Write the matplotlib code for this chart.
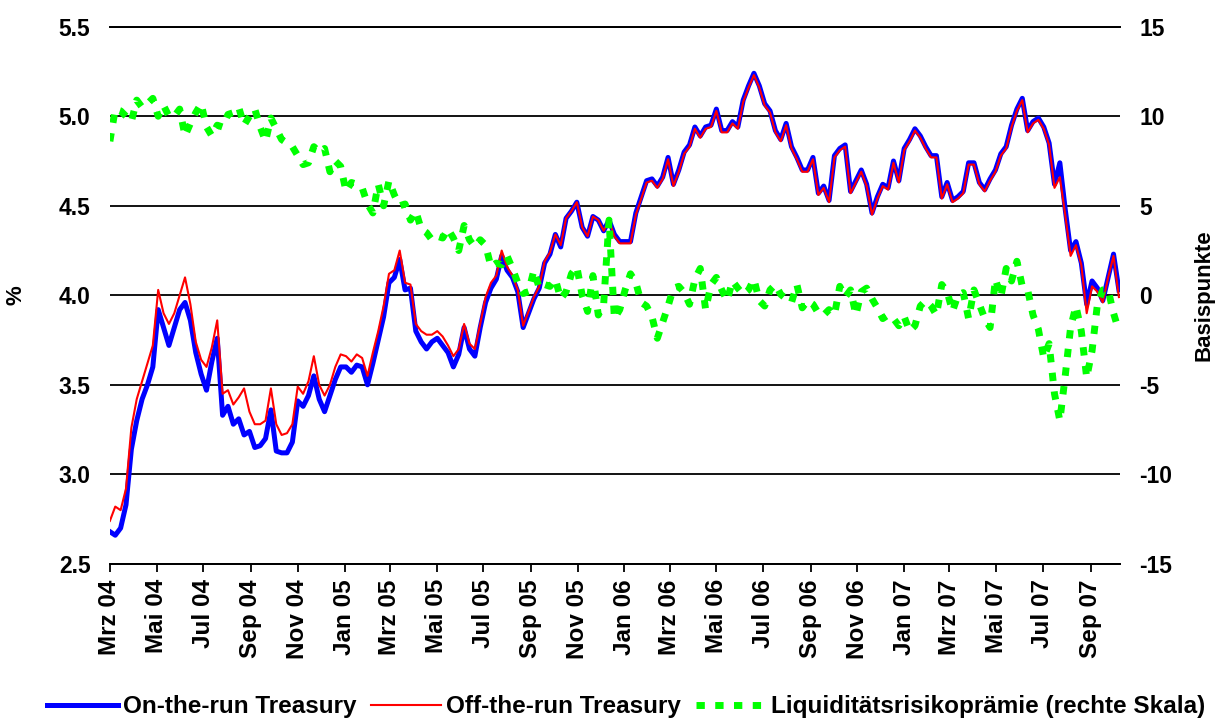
import matplotlib
matplotlib.use("Agg")
import matplotlib.pyplot as plt
import pandas as pd
from matplotlib.lines import Line2D

plt.rcParams["font.family"] = ["Liberation Sans", "DejaVu Sans"]
plt.rcParams["font.weight"] = "bold"
plt.rcParams["axes.unicode_minus"] = False

# weekly readings, first one on 1 March 2004
START = "2004-03-01"

on_the_run = [
    2.68, 2.66, 2.70, 2.83, 3.14, 3.30, 3.42, 3.50, 3.60, 3.92, 3.82, 3.72, 3.82, 3.92, 3.96, 3.86, 3.68, 3.56, 3.47,
    3.63, 3.76, 3.33, 3.38, 3.28, 3.31, 3.22, 3.24, 3.15, 3.16, 3.20, 3.36, 3.13, 3.12, 3.12, 3.18, 3.41, 3.38, 3.44,
    3.55, 3.42, 3.35, 3.44, 3.53, 3.60, 3.60, 3.57, 3.61, 3.60, 3.50, 3.62, 3.75, 3.88, 4.07, 4.10, 4.20, 4.03,
    4.04, 3.80, 3.74, 3.70, 3.74, 3.76, 3.72, 3.68, 3.60, 3.67, 3.82, 3.70, 3.66, 3.82, 3.96, 4.04, 4.09, 4.22, 4.14,
    4.10, 4.02, 3.82, 3.90, 3.98, 4.04, 4.18, 4.23, 4.34, 4.27, 4.43, 4.47, 4.52, 4.38, 4.33, 4.44, 4.42, 4.36, 4.42,
    4.34, 4.30, 4.30, 4.30, 4.46, 4.55, 4.64, 4.65, 4.61, 4.66, 4.77, 4.62, 4.70, 4.80, 4.84, 4.94, 4.89, 4.94,
    4.95, 5.04, 4.92, 4.92, 4.97, 4.94, 5.09, 5.17, 5.24, 5.17, 5.07, 5.03, 4.92, 4.87, 4.96, 4.83, 4.77, 4.70, 4.70,
    4.77, 4.57, 4.61, 4.53, 4.78, 4.82, 4.84, 4.58, 4.64, 4.70, 4.62, 4.46, 4.55, 4.62, 4.60, 4.75, 4.64, 4.82, 4.87,
    4.93, 4.89, 4.83, 4.78, 4.78, 4.55, 4.63, 4.53, 4.55, 4.58, 4.74, 4.74, 4.63, 4.59, 4.65, 4.70, 4.79, 4.83, 4.95,
    5.04, 5.10, 4.92, 4.97, 4.99, 4.94, 4.85, 4.62, 4.74, 4.48, 4.25, 4.30, 4.18, 3.95, 4.08, 4.04, 3.97, 4.10, 4.23, 4.03,
]

off_the_run = [
    2.74, 2.82, 2.80, 2.92, 3.26, 3.42, 3.52, 3.62, 3.72, 4.03, 3.90, 3.84, 3.90, 4.00, 4.10, 3.95, 3.74, 3.64, 3.60,
    3.71, 3.86, 3.45, 3.47, 3.39, 3.43, 3.48, 3.35, 3.28, 3.28, 3.30, 3.48, 3.28, 3.22, 3.23, 3.28, 3.49, 3.45, 3.52,
    3.66, 3.50, 3.44, 3.50, 3.60, 3.67, 3.66, 3.63, 3.67, 3.65, 3.55, 3.68, 3.80, 3.94, 4.12, 4.14, 4.25, 4.07,
    4.06, 3.84, 3.80, 3.78, 3.78, 3.80, 3.77, 3.72, 3.66, 3.70, 3.84, 3.73, 3.70, 3.84, 3.99, 4.07, 4.11, 4.25, 4.16,
    4.11, 4.03, 3.83, 3.91, 3.99, 4.05, 4.19, 4.24, 4.34, 4.28, 4.43, 4.47, 4.52, 4.38, 4.33, 4.44, 4.42, 4.36, 4.42,
    4.33, 4.29, 4.29, 4.29, 4.45, 4.54, 4.63, 4.64, 4.60, 4.65, 4.76, 4.61, 4.69, 4.79, 4.83, 4.93, 4.88, 4.93,
    4.94, 5.03, 4.91, 4.91, 4.96, 4.93, 5.08, 5.16, 5.23, 5.16, 5.06, 5.02, 4.91, 4.86, 4.95, 4.82, 4.76, 4.69, 4.69,
    4.76, 4.56, 4.60, 4.52, 4.77, 4.81, 4.83, 4.57, 4.63, 4.69, 4.61, 4.45, 4.54, 4.61, 4.59, 4.74, 4.63, 4.81, 4.86,
    4.92, 4.88, 4.82, 4.77, 4.77, 4.54, 4.62, 4.52, 4.54, 4.57, 4.73, 4.73, 4.62, 4.58, 4.64, 4.69, 4.78, 4.82, 4.94,
    5.03, 5.09, 4.91, 4.96, 4.98, 4.93, 4.84, 4.60, 4.66, 4.45, 4.22, 4.28, 4.17, 3.90, 4.05, 4.02, 3.96, 4.10, 4.22, 3.99,
]

# Liquiditaetsrisikopraemie in Basispunkten (rechte Skala)
liq_premium = [
    8.6, 10.4, 10.3, 10.0, 9.7, 10.9, 10.5, 10.7, 11.0, 10.0, 10.6, 10.0, 10.0, 10.4, 8.9, 9.6, 10.2, 10.7, 9.4,
    8.9, 9.5, 9.4, 10.1, 10.2, 10.5, 9.5, 10.0, 10.4, 9.4, 8.6, 9.9, 9.3, 8.7, 8.5, 8.3, 7.8, 7.3, 7.4,
    8.3, 8.0, 8.2, 6.9, 7.5, 7.2, 5.8, 6.3, 6.2, 6.0, 5.1, 4.6, 6.2, 5.0, 6.4, 5.6, 5.0, 5.1,
    4.2, 4.7, 3.7, 3.5, 3.1, 3.3, 3.2, 3.7, 3.2, 2.5, 3.9, 3.1, 2.7, 3.1, 2.8, 1.6, 1.8, 1.7, 2.2,
    1.5, 0.7, 0.1, 0.2, 1.4, 0.4, 0.6, 0.5, 0.9, -0.2, 0.2, 1.2, 1.6, 0.0, -0.9, 1.1, -1.1, -0.5, 4.2,
    -1.3, -0.8, 0.3, 1.2, 0.7, -0.4, -0.6, -1.2, -2.4, -1.5, -0.6, 0.4, 0.5, 0.15, -0.5, 0.9, 1.5, -0.8,
    0.6, 1.0, 0.3, -0.3, 0.8, 0.4, 0.05, 0.3, 0.9, -0.3, -0.6, 0.3, 0.6, 0.05, -0.2, -0.4, 0.6, -0.7, -0.3,
    -0.5, -1.0, -1.1, -0.8, -1.1, 0.5, -0.1, 0.3, -1.1, 0.2, 0.4, -0.2, -0.7, -1.3, -1.1, -1.3, -1.7, -1.2, -2.0,
    -1.7, -0.6, -0.3, -0.6, -1.1, 0.6, 0.2, -0.9, 0.0, 0.15, -1.3, 0.3, -0.5, -1.3, -1.8, 0.9, -0.1, 1.5, 0.8,
    1.9, 0.5, 0.3, -1.1, -1.9, -3.5, -2.7, -5.5, -7.0, -4.5, -1.8, -0.6, -2.0, -4.6, -3.1, -0.5, 0.3, 0.3, -1.0, -2.0,
]

tick_dates = ["2004-03-01", "2004-05-01", "2004-07-01", "2004-09-01", "2004-11-01",
              "2005-01-01", "2005-03-01", "2005-05-01", "2005-07-01", "2005-09-01", "2005-11-01",
              "2006-01-01", "2006-03-01", "2006-05-01", "2006-07-01", "2006-09-01", "2006-11-01",
              "2007-01-01", "2007-03-01", "2007-05-01", "2007-07-01", "2007-09-01"]
tick_labels = ["Mrz 04", "Mai 04", "Jul 04", "Sep 04", "Nov 04",
               "Jan 05", "Mrz 05", "Mai 05", "Jul 05", "Sep 05", "Nov 05",
               "Jan 06", "Mrz 06", "Mai 06", "Jul 06", "Sep 06", "Nov 06",
               "Jan 07", "Mrz 07", "Mai 07", "Jul 07", "Sep 07"]

left_ticks = [2.5, 3.0, 3.5, 4.0, 4.5, 5.0, 5.5]
right_ticks = [-15, -10, -5, 0, 5, 10, 15]

dates = pd.date_range(START, periods=len(on_the_run), freq="7D")

fig = plt.figure(figsize=(12.21, 7.22), dpi=100)
ax = fig.add_axes([0.090, 0.219, 0.827, 0.744])
ax2 = ax.twinx()

green_dash = (0, (1.2, 1.5))
ax.plot(dates, on_the_run, color="#0000ff", lw=3.6)
ax.plot(dates, off_the_run, color="#ff0000", lw=1.5)
ax2.plot(dates, liq_premium, color="#00ff00", lw=5, linestyle=green_dash)

ax.set_ylim(2.5, 5.5)
ax2.set_ylim(-15, 15)
ax.set_xlim(pd.Timestamp("2004-03-01"), pd.Timestamp("2007-10-09"))

ax.set_yticks(left_ticks)
ax.set_yticklabels([f"{v:.1f}" for v in left_ticks])
ax2.set_yticks(right_ticks)
ax2.set_yticklabels([str(v) for v in right_ticks])
ax.set_xticks(pd.to_datetime(tick_dates))
ax.set_xticklabels(tick_labels, rotation=90)

ax.yaxis.grid(True, color="black", lw=1.3)
ax.set_axisbelow(True)
for a in (ax, ax2):
    a.spines["left"].set_visible(False)
    a.spines["right"].set_visible(False)
    a.spines["top"].set_linewidth(1.3)
    a.spines["bottom"].set_linewidth(1.3)

ax.tick_params(axis="y", length=0, pad=14, labelsize=16.5)
ax2.tick_params(axis="y", length=0, pad=14, labelsize=16.5)
ax.tick_params(axis="x", length=6, width=1.3, pad=5, labelsize=17.5, direction="out")

ax.set_ylabel("%", fontsize=16, fontweight="bold")
ax.yaxis.set_label_coords(-0.083, 0.5)
ax2.set_ylabel("Basispunkte", fontsize=16, fontweight="bold")
ax2.yaxis.set_label_coords(1.073, 0.5)

handles = [
    Line2D([], [], color="#0000ff", lw=3.6),
    Line2D([], [], color="#ff0000", lw=1.5),
    Line2D([], [], color="#00ff00", lw=5, linestyle=green_dash),
]
labels = ["On-the-run Treasury", "Off-the-run Treasury", "Liquiditätsrisikoprämie (rechte Skala)"]
fig.legend(handles, labels, loc="lower center", bbox_to_anchor=(0.513, -0.025), ncol=3,
           frameon=False, fontsize=17.5, handlelength=2.9, handletextpad=0.2, columnspacing=0.6)

fig.savefig("out.png", dpi=100)
